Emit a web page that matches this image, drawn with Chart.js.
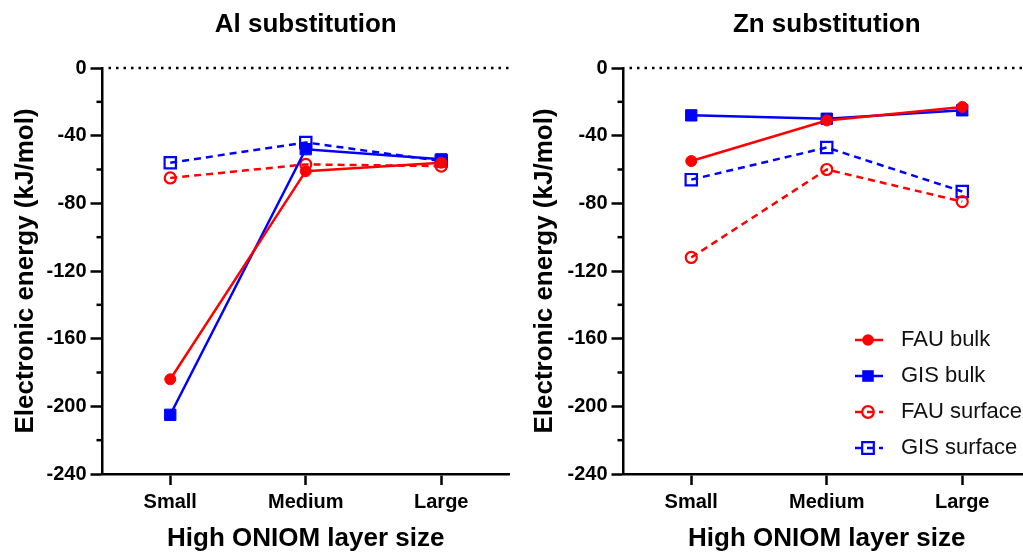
<!DOCTYPE html>
<html>
<head>
<meta charset="utf-8">
<script src="https://cdn.jsdelivr.net/npm/chart.js@4"></script>
<style>
  html, body { margin: 0; padding: 0; background: #fff; }
  body { width: 1023px; height: 552px; overflow: hidden; position: relative; }
  canvas { position: absolute; top: 0; }
  #al { left: 0; }
  #zn { left: 512px; }
</style>
</head>
<body>
<canvas id="al" width="512" height="552"></canvas>
<canvas id="zn" width="530" height="552"></canvas>
<script>
const sizes = ['Small', 'Medium', 'Large'];
const seriesNames = ['FAU bulk', 'GIS bulk', 'FAU surface', 'GIS surface'];

// Al substitution (kJ/mol)
const alFauBulk = [-184, -61, -56];
const alGisBulk = [-205, -48, -54];
const alFauSurface = [-65, -57, -58];
const alGisSurface = [-56, -44, -55];

// Zn substitution (kJ/mol)
const znFauBulk = [-55, -31, -23];
const znGisBulk = [-28, -30, -25];
const znFauSurface = [-112, -60, -79];
const znGisSurface = [-66, -47, -73];

const yTicks = [0, -40, -80, -120, -160, -200, -240];

const RED = '#ff0000';
const BLUE = '#0000ff';
const DASH = [7, 5];

Chart.defaults.color = '#000';
Chart.defaults.font.family = '"Liberation Sans", Arial, sans-serif';

function makeDatasets(fauBulk, gisBulk, fauSurf, gisSurf) {
  return [
    { label: seriesNames[0], data: fauBulk, borderColor: RED, backgroundColor: RED,
      pointStyle: 'circle', pointRadius: 5.5, pointBorderWidth: 1, borderWidth: 2.5 },
    { label: seriesNames[1], data: gisBulk, borderColor: BLUE, backgroundColor: BLUE,
      pointStyle: 'rect', pointRadius: 8, pointBorderWidth: 1, borderWidth: 2.5 },
    { label: seriesNames[2], data: fauSurf, borderColor: RED, backgroundColor: 'rgba(0,0,0,0)',
      pointStyle: 'circle', pointRadius: 5.5, pointBorderWidth: 2.2, borderWidth: 2.5, borderDash: DASH },
    { label: seriesNames[3], data: gisSurf, borderColor: BLUE, backgroundColor: 'rgba(0,0,0,0)',
      pointStyle: 'rect', pointRadius: 8, pointBorderWidth: 2.2, borderWidth: 2.5, borderDash: DASH }
  ];
}

// short minor ticks between the labelled ones, plus the dotted zero line
const axisExtras = {
  id: 'axisExtras',
  afterDraw(chart) {
    const { ctx, chartArea, scales: { y } } = chart;
    ctx.save();
    ctx.strokeStyle = '#000';
    ctx.lineWidth = 2.5;
    y.ticks.forEach(t => {
      if (yTicks.includes(t.value)) return;
      const py = y.getPixelForValue(t.value);
      ctx.beginPath();
      ctx.moveTo(chartArea.left - 6, py);
      ctx.lineTo(chartArea.left, py);
      ctx.stroke();
    });
    const y0 = y.getPixelForValue(0);
    ctx.setLineDash([2.5, 5]);
    ctx.beginPath();
    ctx.moveTo(chartArea.left + 6, y0);
    ctx.lineTo(chartArea.right, y0);
    ctx.stroke();
    ctx.restore();
  }
};

// legend with a line sample and marker for each series
const lineLegend = {
  id: 'lineLegend',
  afterDraw(chart, args, opts) {
    if (!opts.show) return;
    const ctx = chart.ctx;
    ctx.save();
    chart.data.datasets.forEach((ds, i) => {
      const yy = opts.y + i * opts.step;
      const x0 = opts.x, x1 = opts.x + 28, xm = opts.x + 13;
      ctx.strokeStyle = ds.borderColor;
      ctx.lineWidth = 2.5;
      ctx.setLineDash(ds.borderDash || []);
      ctx.beginPath();
      ctx.moveTo(x0, yy);
      ctx.lineTo(x1, yy);
      ctx.stroke();
      ctx.setLineDash([]);
      const filled = ds.backgroundColor !== 'rgba(0,0,0,0)';
      ctx.fillStyle = ds.borderColor;
      ctx.lineWidth = 2.2;
      ctx.beginPath();
      if (ds.pointStyle === 'circle') {
        ctx.arc(xm, yy, 5.8, 0, Math.PI * 2);
      } else {
        ctx.rect(xm - 5.8, yy - 5.8, 11.6, 11.6);
      }
      if (filled) ctx.fill(); else ctx.stroke();
      ctx.fillStyle = '#111';
      ctx.font = '22px "Liberation Sans", Arial, sans-serif';
      ctx.textBaseline = 'middle';
      ctx.textAlign = 'left';
      ctx.fillText(ds.label, opts.x + 46, yy);
    });
    ctx.restore();
  }
};

function makeChart(id, title, datasets, axisWidth, yTitlePad, rightPad, legend) {
  return new Chart(document.getElementById(id), {
    type: 'line',
    data: { labels: sizes, datasets },
    options: {
      responsive: false,
      animation: false,
      events: [],
      layout: { autoPadding: false, padding: { left: 0, right: rightPad, top: 0, bottom: 0 } },
      plugins: {
        legend: { display: false },
        tooltip: { enabled: false },
        title: {
          display: true, text: title, fullSize: false, color: '#000',
          font: { size: 26, weight: 'bold', lineHeight: 1.2 },
          padding: { top: 9.4, bottom: 27.4 }
        },
        lineLegend: legend
      },
      scales: {
        x: {
          type: 'category',
          offset: true,
          grid: { drawOnChartArea: false, drawTicks: true, tickLength: 11, tickWidth: 2.5, tickColor: '#000' },
          border: { display: true, color: '#000', width: 2.5 },
          ticks: { font: { size: 20, weight: 'bold' }, color: '#000', padding: 5, maxRotation: 0 },
          title: {
            display: true, text: 'High ONIOM layer size', color: '#000',
            font: { size: 26, weight: 'bold', lineHeight: 1 },
            padding: { top: 0, bottom: 0 }
          },
          afterFit: s => { s.height = 78; }
        },
        y: {
          min: -240, max: 0,
          grid: {
            drawOnChartArea: false, drawTicks: true, tickLength: 12, tickWidth: 2.5,
            tickColor: c => yTicks.includes(c.tick.value) ? '#000' : 'rgba(0,0,0,0)'
          },
          border: { display: true, color: '#000', width: 2.5 },
          ticks: {
            stepSize: 20, padding: 4, color: '#000',
            font: { size: 20, weight: 'bold' },
            callback: v => yTicks.includes(v) ? String(v) : ''
          },
          title: {
            display: true, text: 'Electronic energy (kJ/mol)', color: '#000',
            font: { size: 26, weight: 'bold', lineHeight: 1 },
            padding: { top: yTitlePad, bottom: 0 }
          },
          afterFit: s => { s.width = axisWidth; }
        }
      }
    },
    plugins: [axisExtras, lineLegend]
  });
}

makeChart('al', 'Al substitution',
  makeDatasets(alFauBulk, alGisBulk, alFauSurface, alGisSurface),
  102.5, 13, 3, { show: false });

makeChart('zn', 'Zn substitution',
  makeDatasets(znFauBulk, znGisBulk, znFauSurface, znGisSurface),
  111.5, 20.3, 12, { show: true, x: 343, y: 340, step: 36 });
</script>
</body>
</html>
